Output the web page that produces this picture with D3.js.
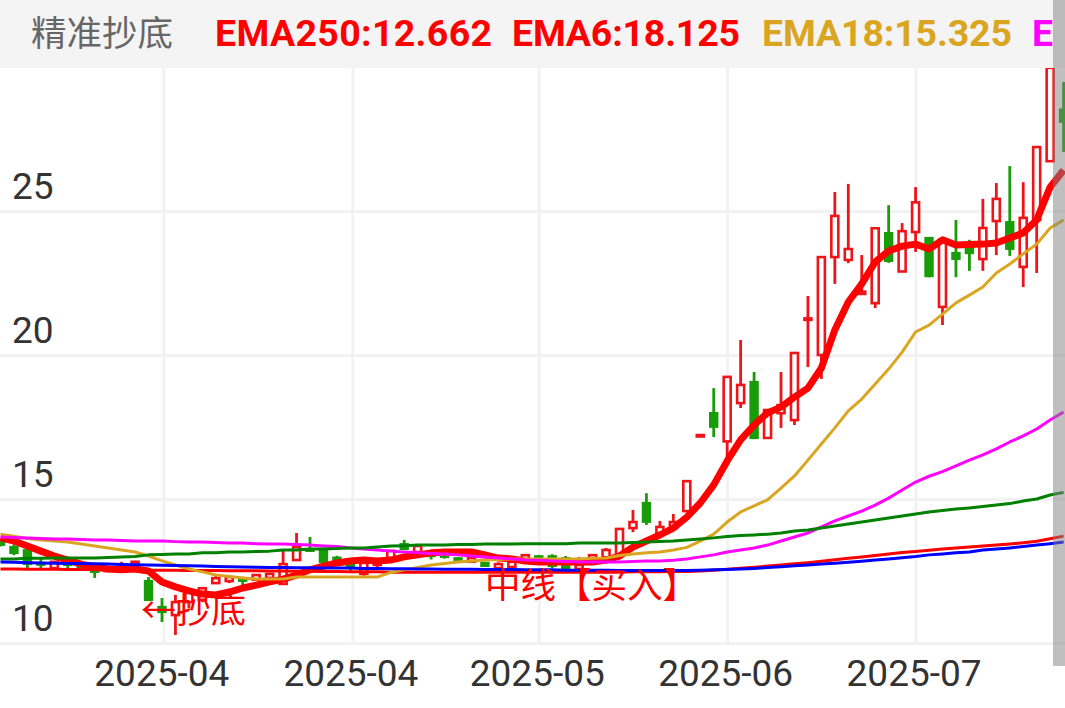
<!DOCTYPE html>
<html lang="zh">
<head>
<meta charset="utf-8">
<title>精准抄底</title>
<script src="https://cdn.jsdelivr.net/npm/d3@7"></script>
<style>
  html, body { margin: 0; padding: 0; background: #fff; overflow: hidden; }
  svg { display: block; }
</style>
</head>
<body>
<div id="chart"></div>
<script>
//Data
const priceTicks = [10, 15, 20, 25];
const dateIndex = [12.1, 26.15, 40, 54, 68];
const dateLabels = ['2025-04', '2025-04', '2025-05', '2025-06', '2025-07'];

const open = [13.58,13.37,13.26,12.82,12.60,12.78,12.71,12.57,12.50,12.54,12.72,12.19,11.29,10.97,11.42,11.50,12.08,12.15,12.26,12.20,
  12.26,12.05,12.88,13.30,13.30,13.00,12.78,12.40,12.71,12.95,13.47,13.16,13.10,13.02,12.98,12.82,12.82,12.60,12.64,12.85,
  13.05,13.05,12.98,12.57,12.88,12.98,13.05,13.99,14.90,13.82,13.99,14.58,17.17,18.02,17.00,18.33,19.10,17.12,17.98,17.74,
  21.22,20.00,23.40,23.30,22.12,21.80,24.27,22.90,24.27,24.10,21.67,23.58,23.75,23.33,24.65,24.65,23.06,24.69,26.73,28.56];
const high = [13.60,13.42,13.30,12.95,12.82,12.81,12.71,12.57,12.60,12.82,12.85,12.29,11.56,11.67,11.92,11.95,12.36,12.30,12.30,12.36,
  12.40,13.26,13.82,13.68,13.30,13.03,12.85,12.85,12.88,13.20,13.58,13.37,13.23,13.05,12.98,12.95,12.82,12.80,12.82,13.05,
  13.05,13.08,13.02,12.98,13.08,13.30,13.96,14.62,15.20,14.24,14.48,15.62,17.22,18.85,19.24,20.52,19.41,18.12,19.41,20.07,
  22.05,23.40,25.66,25.94,23.47,24.40,25.20,24.58,25.83,24.10,24.00,24.69,24.00,25.42,25.97,26.56,26.00,27.22,29.97,29.48];
const low = [13.35,13.05,12.57,12.57,12.58,12.57,12.57,12.26,12.48,12.50,12.55,11.46,10.73,10.28,11.20,11.42,12.08,12.08,12.00,12.20,
  12.26,12.05,12.88,13.16,12.78,12.70,12.50,12.33,12.64,12.95,13.23,13.10,12.90,12.93,12.85,12.78,12.64,12.50,12.60,12.80,
  12.78,12.60,12.43,12.50,12.75,12.98,13.05,13.85,14.10,13.82,13.99,14.55,17.17,17.15,16.35,18.16,17.08,17.10,17.47,17.57,
  19.58,19.17,22.47,23.19,22.10,21.63,23.20,22.90,23.58,22.70,21.04,22.70,22.92,22.92,23.47,23.44,22.36,22.85,26.70,27.05];
const close = [13.37,13.09,12.71,12.68,12.82,12.67,12.57,12.43,12.58,12.65,12.82,11.46,11.04,11.42,11.84,11.90,12.25,12.29,12.12,12.36,
  12.40,12.74,13.33,13.16,12.78,12.70,12.64,12.78,12.88,13.20,13.23,13.37,12.98,12.95,12.85,12.95,12.64,12.74,12.82,13.05,
  12.78,12.64,12.43,12.71,13.05,13.23,13.96,14.20,14.17,14.03,14.20,15.62,17.22,17.47,19.24,18.96,17.08,18.09,18.26,20.07,
  21.27,23.40,24.83,23.68,22.20,24.40,23.23,24.30,25.30,22.70,24.00,23.30,23.50,24.41,25.42,23.65,24.76,27.22,29.97,28.06];

const ema250 = [12.57,12.57,12.56,12.56,12.56,12.55,12.55,12.55,12.54,12.54,12.54,12.53,12.53,12.53,12.52,12.52,12.52,12.51,12.51,12.51,
  12.50,12.50,12.49,12.49,12.48,12.48,12.47,12.47,12.47,12.46,12.46,12.46,12.46,12.46,12.46,12.46,12.46,12.46,12.46,12.46,
  12.46,12.46,12.46,12.46,12.46,12.46,12.46,12.47,12.47,12.47,12.48,12.48,12.50,12.53,12.56,12.60,12.63,12.67,12.71,12.75,
  12.79,12.84,12.89,12.94,12.99,13.04,13.09,13.14,13.18,13.22,13.26,13.30,13.33,13.37,13.40,13.44,13.48,13.53,13.62,13.71];
const ema6 = [13.65,13.54,13.37,13.19,13.02,12.88,12.74,12.64,12.57,12.54,12.57,12.50,12.12,11.95,11.81,11.70,11.67,11.77,11.91,12.01,
  12.12,12.22,12.36,12.54,12.67,12.78,12.85,12.88,12.85,12.88,12.99,13.06,13.13,13.16,13.16,13.16,13.06,12.95,12.92,12.85,
  12.81,12.81,12.81,12.81,12.81,12.88,13.02,13.33,13.54,13.75,13.99,14.37,14.86,15.49,16.32,17.05,17.57,17.99,18.19,18.54,
  18.85,19.55,20.87,21.84,22.47,23.23,23.61,23.78,23.85,23.68,24.00,23.82,23.84,23.85,23.89,24.06,24.24,24.69,25.83,26.42];
const ema18 = [13.78,13.71,13.63,13.58,13.54,13.51,13.44,13.37,13.30,13.23,13.16,13.02,12.85,12.71,12.57,12.47,12.36,12.31,12.26,12.22,
  12.22,12.22,12.29,12.29,12.29,12.29,12.29,12.29,12.29,12.45,12.54,12.62,12.71,12.76,12.81,12.85,12.88,12.90,12.92,12.92,
  12.92,12.92,12.92,12.92,12.94,12.95,13.04,13.09,13.13,13.16,13.23,13.32,13.54,13.78,14.20,14.55,14.76,14.97,15.38,15.80,
  16.35,16.91,17.47,18.06,18.47,18.99,19.51,20.10,20.80,21.04,21.42,21.81,22.08,22.36,22.85,23.16,23.51,23.85,24.41,24.69];
const emaMagenta = [13.68,13.66,13.65,13.63,13.61,13.61,13.59,13.58,13.58,13.56,13.54,13.54,13.54,13.52,13.51,13.51,13.49,13.47,13.47,13.45,
  13.44,13.44,13.42,13.40,13.37,13.35,13.30,13.26,13.23,13.19,13.16,13.13,13.11,13.09,13.06,13.02,12.99,12.95,12.92,12.88,
  12.87,12.85,12.83,12.81,12.81,12.81,12.81,12.83,12.85,12.85,12.87,12.92,12.99,13.06,13.16,13.23,13.30,13.40,13.54,13.68,
  13.82,14.03,14.24,14.41,14.58,14.79,15.03,15.31,15.59,15.79,15.95,16.15,16.35,16.53,16.74,16.98,17.19,17.43,17.74,18.02];
const emaGreen = [12.92,12.92,12.94,12.94,12.95,12.95,12.95,12.95,12.97,12.99,13.00,13.06,13.07,13.09,13.09,13.13,13.13,13.16,13.16,13.18,
  13.19,13.23,13.23,13.26,13.26,13.28,13.30,13.30,13.33,13.37,13.38,13.40,13.40,13.40,13.42,13.42,13.44,13.44,13.44,13.45,
  13.45,13.45,13.45,13.47,13.47,13.47,13.47,13.49,13.51,13.52,13.54,13.58,13.61,13.65,13.70,13.73,13.75,13.78,13.82,13.89,
  13.92,13.99,14.06,14.13,14.20,14.27,14.34,14.41,14.48,14.55,14.60,14.65,14.69,14.74,14.79,14.84,14.93,15.00,15.14,15.23];
const emaBlue = [12.81,12.80,12.79,12.78,12.77,12.76,12.76,12.75,12.74,12.73,12.72,12.71,12.70,12.69,12.68,12.67,12.66,12.65,12.64,12.63,
  12.62,12.62,12.61,12.61,12.60,12.60,12.60,12.59,12.59,12.58,12.58,12.57,12.57,12.56,12.56,12.56,12.55,12.55,12.55,12.54,
  12.54,12.54,12.53,12.53,12.53,12.53,12.52,12.52,12.52,12.52,12.52,12.52,12.53,12.54,12.55,12.57,12.59,12.62,12.65,12.68,
  12.71,12.74,12.77,12.80,12.84,12.88,12.92,12.96,13.00,13.06,13.09,13.13,13.16,13.23,13.26,13.30,13.35,13.40,13.45,13.51];

const legendNames = ['EMA250:12.662', 'EMA6:18.125', 'EMA18:15.325', 'E'];

//Visual
const width = 1065;
const height = 708;
const headerH = 68;
const plotBottom = 643;
const upColor = '#f01419';
const downColor = '#189c08';
const gridColor = '#f2f2f4';

const svg = d3.select('#chart').append('svg')
  .attr('width', width)
  .attr('height', height);

const x = d3.scaleLinear().domain([0, 79]).range([0.5, 1063.6]);
const y = d3.scaleLinear().domain([10, 25]).range([plotBottom, 211]);

// grid and axes
const yAxis = svg.append('g')
  .call(d3.axisRight(y).tickValues(priceTicks).tickSize(width));
yAxis.select('.domain').remove();
yAxis.selectAll('line').attr('stroke', gridColor).attr('stroke-width', 3);
yAxis.selectAll('text')
  .attr('x', 12)
  .attr('dy', -13)
  .style('font-size', '37px')
  .style('font-family', 'Roboto')
  .attr('fill', '#333');

const xAxis = svg.append('g')
  .attr('transform', `translate(0,${plotBottom})`)
  .call(d3.axisBottom(x).tickValues(dateIndex)
    .tickFormat((d, i) => dateLabels[i])
    .tickSize(-(plotBottom - headerH)));
xAxis.select('.domain').remove();
xAxis.selectAll('line').attr('stroke', gridColor).attr('stroke-width', 3);
xAxis.selectAll('text')
  .attr('x', -2)
  .attr('y', 13)
  .attr('dy', '.8em')
  .style('font-size', '37px')
  .style('font-family', 'Roboto')
  .attr('fill', '#333');

// candles
const candles = svg.append('g');
close.forEach((c, i) => {
  const up = c >= open[i];
  const color = up ? upColor : downColor;
  candles.append('line')
    .attr('x1', x(i)).attr('x2', x(i))
    .attr('y1', y(high[i])).attr('y2', y(low[i]))
    .attr('stroke', color)
    .attr('stroke-width', 2.8);
  const top = y(Math.max(c, open[i]));
  const bodyH = Math.abs(y(c) - y(open[i]));
  if (up) {
    candles.append('rect')
      .attr('x', x(i) - 3.5).attr('width', 7)
      .attr('y', top).attr('height', bodyH)
      .attr('fill', '#fff')
      .attr('stroke', color)
      .attr('stroke-width', 2.6);
  } else {
    candles.append('rect')
      .attr('x', x(i) - 4.7).attr('width', 9.4)
      .attr('y', top).attr('height', bodyH)
      .attr('fill', color);
  }
});

// moving averages
const line = d3.line().x((d, i) => x(i)).y(d => y(d));
const series = [
  { values: ema250, color: '#ff0000', w: 3 },
  { values: ema6, color: '#ff0000', w: 7 },
  { values: ema18, color: '#daa520', w: 3 },
  { values: emaMagenta, color: '#ff00ff', w: 3 },
  { values: emaGreen, color: '#008000', w: 3 },
  { values: emaBlue, color: '#0000ff', w: 3 }
];
series.forEach(s => {
  svg.append('path')
    .attr('d', line(s.values))
    .attr('fill', 'none')
    .attr('stroke', s.color)
    .attr('stroke-width', s.w)
    .attr('stroke-linejoin', 'round');
});

// notes on the chart
svg.append('text').text('←抄底')
  .attr('x', 141).attr('y', 623)
  .attr('fill', '#ff0000')
  .style('font-size', '35px')
  .style('font-family', '"Noto Sans CJK SC"');
svg.append('text').text('中线【买入】')
  .attr('x', 485).attr('y', 598)
  .attr('fill', '#ff0000')
  .style('font-size', '35.5px')
  .style('font-family', '"Noto Sans CJK SC"');

// header
svg.append('rect')
  .attr('width', width).attr('height', headerH)
  .attr('fill', '#f4f4f4');
svg.append('text').text('精准抄底')
  .attr('x', 31).attr('y', 46)
  .attr('fill', '#666')
  .style('font-size', '35.5px')
  .style('font-family', '"Noto Sans CJK SC"');
const legendX = [215, 512, 762, 1032];
const legendW = [277, 228, 250, 15];
const legendColors = ['#ff0000', '#ff0000', '#daa520', '#ff00ff'];
legendNames.forEach((name, i) => {
  svg.append('text').text(name)
    .attr('x', legendX[i]).attr('y', 46)
    .attr('textLength', legendW[i])
    .attr('fill', legendColors[i])
    .style('font-size', '37.5px')
    .style('font-weight', 700)
    .style('font-family', 'Roboto');
});

// scrollbar
svg.append('rect')
  .attr('x', 1053).attr('y', 0)
  .attr('width', 12).attr('height', 666)
  .attr('fill', '#808080')
  .attr('opacity', 0.5);
</script>
</body>
</html>
